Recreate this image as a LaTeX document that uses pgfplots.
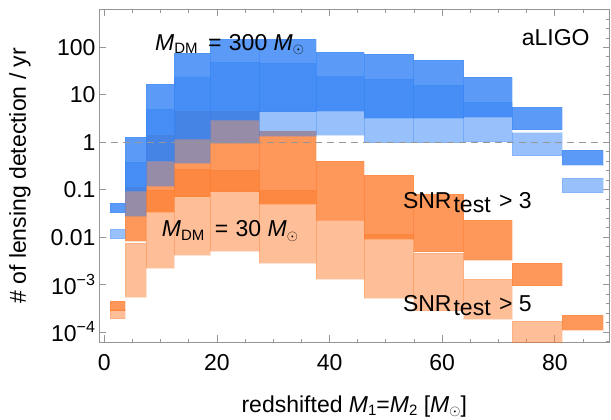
\documentclass[border=0pt]{standalone}
\usepackage{fontspec}
\setmainfont{Liberation Sans}
\usepackage{pgfplots}
\pgfplotsset{compat=1.18}
\definecolor{cblue}{RGB}{50,130,245}
\definecolor{corange}{RGB}{252,120,40}
\definecolor{framegray}{RGB}{150,150,150}
\newcommand\lsub[1]{\raisebox{-3.5bp}{\fontsize{15bp}{18bp}\selectfont #1}}
\pgfplotsset{
  bthree/.style={fill=cblue, fill opacity=0.8, draw=cblue, draw opacity=0.25, line width=0.4bp},
  bfive/.style={fill=cblue, fill opacity=0.5, draw=cblue, draw opacity=0.2, line width=0.4bp},
  othree/.style={fill=corange, fill opacity=0.77, draw=corange, draw opacity=0.25, line width=0.4bp},
  ofive/.style={fill=corange, fill opacity=0.48, draw=corange, draw opacity=0.2, line width=0.4bp},
}
\begin{document}
\begin{tikzpicture}[font=\fontsize{23bp}{27bp}\selectfont]
\begin{axis}[
  name=ax, at={(0,0)}, anchor=south west,
  scale only axis, width=510.5bp, height=333bp,
  ymode=log,
  xmin=-0.95, xmax=89.7, ymin=6.07e-5, ymax=637,
  axis line style={framegray, line width=0.9bp},
  tick style={framegray, line width=0.9bp},
  tick align=inside,
  major tick length=7bp, minor tick length=3.5bp,
  xtick={0,20,40,60,80}, xticklabels={0,20,40,60,80},
  minor xtick={5,10,15,25,30,35,45,50,55,65,70,75,85},
  ytick={1e-4,1e-3,0.01,0.1,1,10,100},
  yticklabels={10\textsuperscript{−4},10\textsuperscript{−3},0.01,0.1,1,10,100},
  ytick pos=left, yminorticks=false,
  every tick label/.append style={font=\fontsize{23bp}{27bp}\selectfont, text=black},
  xticklabel style={yshift=-9bp},
  every axis x label/.style={at={(axis description cs:0.5,-0.21)}, anchor=base},
  every axis y label/.style={at={(axis description cs:-0.1548,0.5)}, rotate=90, anchor=center},
  xlabel={redshifted \textit{M}\lsub{1}=\textit{M}\lsub{2} [\textit{M}\lsub{\(\odot\)}]},
  ylabel={\# of lensing detection / yr},
  clip=true,
]
% ---- M_DM = 30, SNR>5 (light orange)
\addplot[ofive] coordinates {(1.01,1.91e-4) (3.67,1.91e-4) (3.67,2.98e-4) (1.01,2.98e-4)} --cycle;
\addplot[ofive] coordinates {(3.67,5.55e-4) (7.40,5.55e-4) (7.40,0.00753) (3.67,0.00753)} --cycle;
\addplot[ofive] coordinates {(7.40,0.00227) (12.43,0.00227) (12.43,0.0987) (7.40,0.0987)} --cycle;
\addplot[ofive] coordinates {(12.43,0.00421) (18.77,0.00421) (18.77,0.274) (12.43,0.274)} --cycle;
\addplot[ofive] coordinates {(18.77,0.00518) (27.52,0.00518) (27.52,0.261) (18.77,0.261)} --cycle;
\addplot[ofive] coordinates {(27.52,0.00289) (37.53,0.00289) (37.53,0.0987) (27.52,0.0987)} --cycle;
\addplot[ofive] coordinates {(37.53,0.00131) (46.16,0.00131) (46.16,0.0230) (37.53,0.0230)} --cycle;
\addplot[ofive] coordinates {(46.16,5.29e-4) (54.93,5.29e-4) (54.93,0.01149) (46.16,0.01149)} --cycle;
\addplot[ofive] coordinates {(54.93,2.82e-4) (63.80,2.82e-4) (63.80,0.00470) (54.93,0.00470)} --cycle;
\addplot[ofive] coordinates {(63.80,1.88e-4) (72.43,1.88e-4) (72.43,0.00131) (63.80,0.00131)} --cycle;
\addplot[ofive] coordinates {(72.43,5.59e-5) (81.25,5.59e-5) (81.25,1.71e-4) (72.43,1.71e-4)} --cycle;
% ---- M_DM = 30, SNR>3 (orange)
\addplot[othree] coordinates {(1.01,2.84e-4) (3.67,2.84e-4) (3.67,4.51e-4) (1.01,4.51e-4)} --cycle;
\addplot[othree] coordinates {(3.67,0.0083) (7.40,0.0083) (7.40,0.1142) (3.67,0.1142)} --cycle;
\addplot[othree] coordinates {(7.40,0.0344) (12.43,0.0344) (12.43,1.425) (7.40,1.425)} --cycle;
\addplot[othree] coordinates {(12.43,0.0713) (18.77,0.0713) (18.77,4.57) (12.43,4.57)} --cycle;
\addplot[othree] coordinates {(18.77,0.0909) (27.52,0.0909) (27.52,4.57) (18.77,4.57)} --cycle;
\addplot[othree] coordinates {(27.52,0.0500) (37.53,0.0500) (37.53,1.756) (27.52,1.756)} --cycle;
\addplot[othree] coordinates {(37.53,0.0230) (46.16,0.0230) (46.16,0.403) (37.53,0.403)} --cycle;
\addplot[othree] coordinates {(46.16,0.00915) (54.93,0.00915) (54.93,0.204) (46.16,0.204)} --cycle;
\addplot[othree] coordinates {(54.93,0.00494) (63.80,0.00494) (63.80,0.0813) (54.93,0.0813)} --cycle;
\addplot[othree] coordinates {(63.80,0.0033) (72.43,0.0033) (72.43,0.0230) (63.80,0.0230)} --cycle;
\addplot[othree] coordinates {(72.43,9.48e-4) (81.25,9.48e-4) (81.25,0.00281) (72.43,0.00281)} --cycle;
\addplot[othree] coordinates {(81.25,1.10e-4) (88.53,1.10e-4) (88.53,2.28e-4) (81.25,2.28e-4)} --cycle;
% ---- M_DM = 300, SNR>3 (blue)
\addplot[bthree] coordinates {(1.01,0.0328) (3.67,0.0328) (3.67,0.0518) (1.01,0.0518)} --cycle;
\addplot[bthree] coordinates {(3.67,0.0940) (7.40,0.0940) (7.40,1.275) (3.67,1.275)} --cycle;
\addplot[bthree] coordinates {(7.40,0.403) (12.43,0.403) (12.43,16.95) (7.40,16.95)} --cycle;
\addplot[bthree] coordinates {(12.43,1.174) (18.77,1.174) (18.77,75.2) (12.43,75.2)} --cycle;
\addplot[bthree] coordinates {(18.77,2.95) (27.52,2.95) (27.52,148.5) (18.77,148.5)} --cycle;
\addplot[bthree] coordinates {(27.52,4.42) (37.53,4.42) (37.53,148.5) (27.52,148.5)} --cycle;
\addplot[bthree] coordinates {(37.53,4.57) (46.16,4.57) (46.16,79.0) (37.53,79.0)} --cycle;
\addplot[bthree] coordinates {(46.16,3.30) (54.93,3.30) (54.93,72.7) (46.16,72.7)} --cycle;
\addplot[bthree] coordinates {(54.93,3.30) (63.80,3.30) (63.80,54.4) (54.93,54.4)} --cycle;
\addplot[bthree] coordinates {(63.80,3.42) (72.43,3.42) (72.43,23.8) (63.80,23.8)} --cycle;
\addplot[bthree] coordinates {(72.43,1.86) (81.25,1.86) (81.25,5.63) (72.43,5.63)} --cycle;
\addplot[bthree] coordinates {(81.25,0.337) (88.53,0.337) (88.53,0.688) (81.25,0.688)} --cycle;
% ---- M_DM = 300, SNR>5 (light blue)
\addplot[bfive] coordinates {(1.01,0.00928) (3.67,0.00928) (3.67,0.01486) (1.01,0.01486)} --cycle;
\addplot[bfive] coordinates {(3.67,0.0279) (7.40,0.0279) (7.40,0.384) (3.67,0.384)} --cycle;
\addplot[bfive] coordinates {(7.40,0.120) (12.43,0.120) (12.43,5.04) (7.40,5.04)} --cycle;
\addplot[bfive] coordinates {(12.43,0.361) (18.77,0.361) (18.77,24.2) (12.43,24.2)} --cycle;
\addplot[bfive] coordinates {(18.77,0.953) (27.52,0.953) (27.52,48.6) (18.77,48.6)} --cycle;
\addplot[bfive] coordinates {(27.52,1.358) (37.53,1.358) (37.53,46.3) (27.52,46.3)} --cycle;
\addplot[bfive] coordinates {(37.53,1.425) (46.16,1.425) (46.16,25.0) (37.53,25.0)} --cycle;
\addplot[bfive] coordinates {(46.16,0.981) (54.93,0.981) (54.93,21.6) (46.16,21.6)} --cycle;
\addplot[bfive] coordinates {(54.93,0.981) (63.80,0.981) (63.80,16.15) (54.93,16.15)} --cycle;
\addplot[bfive] coordinates {(63.80,1.03) (72.43,1.03) (72.43,7.07) (63.80,7.07)} --cycle;
\addplot[bfive] coordinates {(72.43,0.522) (81.25,0.522) (81.25,1.594) (72.43,1.594)} --cycle;
\addplot[bfive] coordinates {(81.25,0.0866) (88.53,0.0866) (88.53,0.1768) (81.25,0.1768)} --cycle;
% ---- reference line at 1
\addplot[framegray, line width=1.3bp, dash pattern=on 7bp off 5bp] coordinates {(-0.95,1) (89.7,1)};
% ---- annotations
\node[anchor=base west, inner sep=0pt] at (axis cs:9.0,88.3) {\textit{M}\lsub{DM}\hspace{4bp} = \hspace{1bp}300 \textit{M}\lsub{\(\odot\)}};
\node[anchor=base west, inner sep=0pt] at (axis cs:10.2,0.01023) {\textit{M}\lsub{DM}\hspace{4bp} = \hspace{1bp}30 \textit{M}\lsub{\(\odot\)}};
\node[anchor=base east, inner sep=0pt] at (axis cs:86.2,108.8) {aLIGO};
\node[anchor=base west, inner sep=0pt] at (axis cs:53.0,0.0406) {SNR\hspace{2bp}\raisebox{-4bp}{test}\hspace{2bp} > 3};
\node[anchor=base west, inner sep=0pt] at (axis cs:53.0,2.773e-4) {SNR\hspace{2bp}\raisebox{-4bp}{test}\hspace{2bp} > 5};
\end{axis}
\begin{axis}[
  at={(0,0)}, anchor=south west,
  scale only axis, width=510.5bp, height=333bp,
  ymode=log,
  xmin=-0.95, xmax=89.7, ymin=6.07e-5, ymax=637,
  hide x axis, axis y line*=right,
  y axis line style={framegray, line width=0.9bp},
  tick style={framegray, line width=0.9bp},
  tick align=inside,
  major tick length=7bp, minor tick length=3.5bp,
  ytick={1e-4,1e-3,0.01,0.1,1,10,100},
  yticklabels={},
  minor ytick={1.585e-5,2.512e-5,3.981e-5,6.310e-5,
    1.585e-4,2.512e-4,3.981e-4,6.310e-4,
    1.585e-3,2.512e-3,3.981e-3,6.310e-3,
    1.585e-2,2.512e-2,3.981e-2,6.310e-2,
    0.1585,0.2512,0.3981,0.6310,
    1.585,2.512,3.981,6.310,
    15.85,25.12,39.81,63.10,
    158.5,251.2,398.1,631.0},
]
\addplot[draw=none] coordinates {(0,1) (1,1)};
\end{axis}
\pgfresetboundingbox
\path[use as bounding box] (-99bp,-77.7bp) rectangle (512bp,342.3bp);
\end{tikzpicture}
\end{document}
